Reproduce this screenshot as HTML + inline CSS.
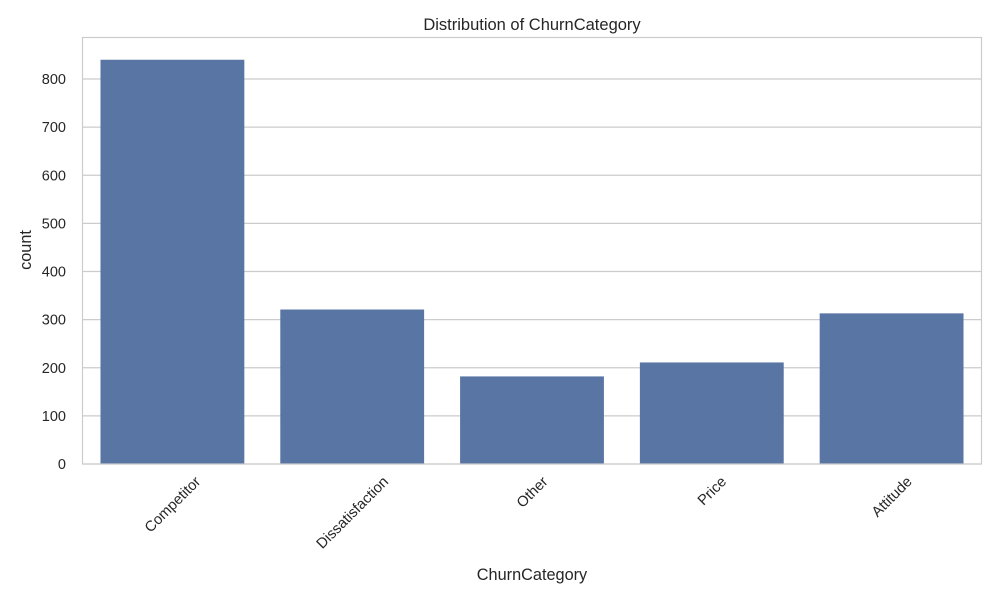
<!DOCTYPE html>
<html><head><meta charset="utf-8"><style>
body{margin:0;background:#fff;font-family:"Liberation Sans",sans-serif;}
</style></head><body>
<svg id="chart" width="1000" height="600" xmlns="http://www.w3.org/2000/svg" font-family="Liberation Sans, sans-serif">
<text x="532" y="30" text-anchor="middle" font-size="16.5" fill="#262626">Distribution of ChurnCategory</text>
<g id="grid"></g><g id="bars"></g><g id="yticks"></g><g id="xticks"></g>
<rect x="82.5" y="37.5" width="899" height="426.5" fill="none" stroke="#cccccc" stroke-width="1.2"/>
<text x="532" y="580" text-anchor="middle" font-size="16.3" fill="#262626">ChurnCategory</text>
<text transform="translate(31,250) rotate(-90)" text-anchor="middle" font-size="16.3" fill="#262626">count</text>
</svg>
<script>
const categories=["Competitor","Dissatisfaction","Other","Price","Attitude"];
const counts=[840,321,182,211,313];
const yTickValues=[0,100,200,300,400,500,600,700,800];
const NS="http://www.w3.org/2000/svg";
const left=82.5,right=981.5,y0=464,pxPer=0.48125;
const y=v=>y0-v*pxPer;
const band=(right-left)/categories.length;
const xc=i=>left+band*(i+0.5);
function mk(t,a,p){const e=document.createElementNS(NS,t);for(const k in a)e.setAttribute(k,a[k]);p.appendChild(e);return e;}
const g=document.getElementById('grid'),yt=document.getElementById('yticks'),b=document.getElementById('bars'),xt=document.getElementById('xticks');
yTickValues.forEach(v=>{
 const l=mk('line',{x1:left,x2:right,y1:y(v),y2:y(v),stroke:'#cccccc','stroke-width':1.2},g);
 
 
 const t=mk('text',{x:66,y:y(v)+5,'text-anchor':'end','font-size':14.5,fill:'#262626'},yt);
 t.textContent=v;
 
 
});
categories.forEach((c,i)=>{
 const w=band*0.8;
 const r=mk('rect',{x:xc(i)-w/2,y:y(counts[i]),width:w,height:y0-y(counts[i]),fill:'#5975a4'},b);
 
 
 const t=mk('text',{'text-anchor':'middle','font-size':14.7,fill:'#262626'},xt);
 t.textContent=c;
 
 
 const len=t.getComputedTextLength();
 const h=(len+14)*0.7071/2;
 t.setAttribute('transform',`translate(${xc(i)},${474+h}) rotate(-45) translate(0,5)`);
});
</script>
</body></html>
